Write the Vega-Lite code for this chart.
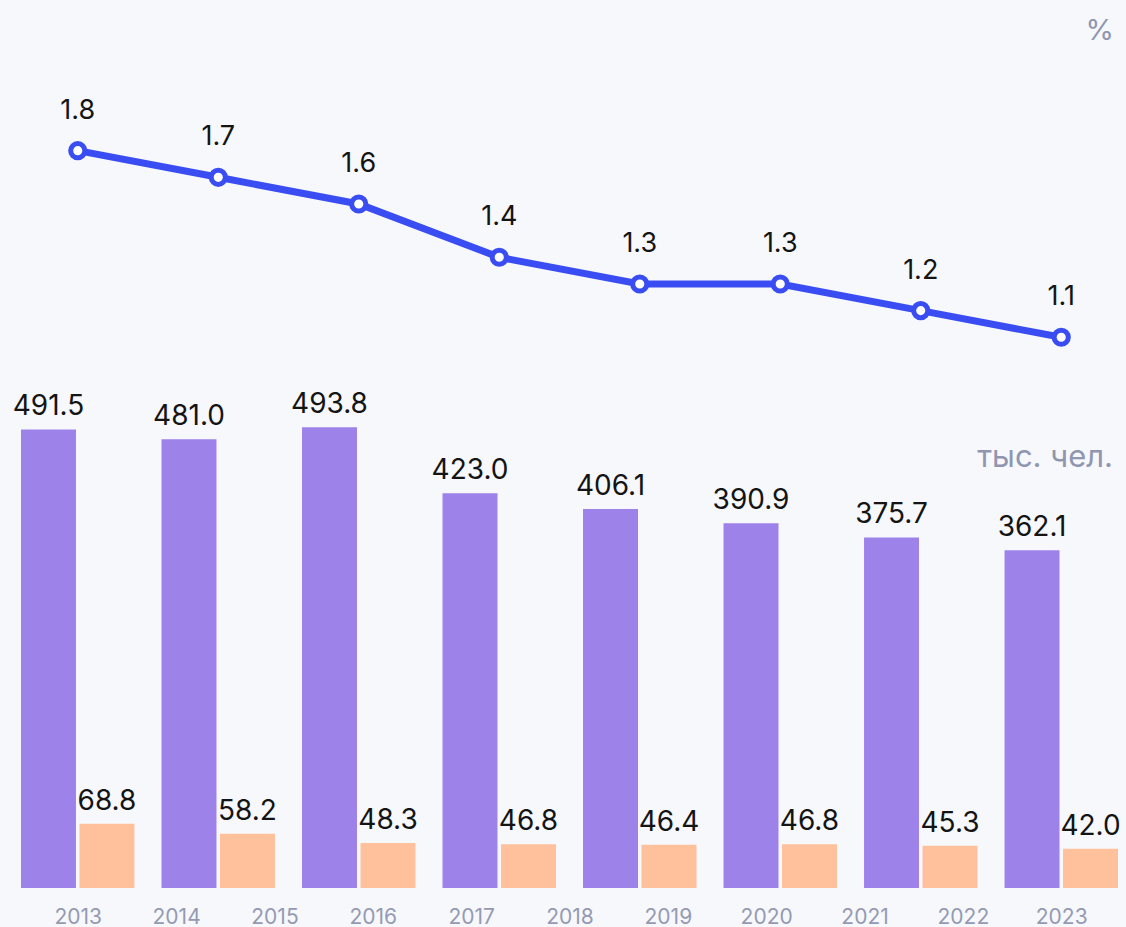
{
  "$schema": "https://vega.github.io/schema/vega-lite/v6.json",
  "width": 1097,
  "height": 868,
  "autosize": {"type": "none"},
  "padding": {"left": 21, "top": 20, "right": 8, "bottom": 39},
  "background": "#f6f8fb",
  "config": {"view": {"stroke": null}, "font": "Inter"},
  "datasets": {
    "bars": [
      {"g": 1, "series": "s1", "value": 491.5}, {"g": 1, "series": "s2", "value": 68.8},
      {"g": 2, "series": "s1", "value": 481.0}, {"g": 2, "series": "s2", "value": 58.2},
      {"g": 3, "series": "s1", "value": 493.8}, {"g": 3, "series": "s2", "value": 48.3},
      {"g": 4, "series": "s1", "value": 423.0}, {"g": 4, "series": "s2", "value": 46.8},
      {"g": 5, "series": "s1", "value": 406.1}, {"g": 5, "series": "s2", "value": 46.4},
      {"g": 6, "series": "s1", "value": 390.9}, {"g": 6, "series": "s2", "value": 46.8},
      {"g": 7, "series": "s1", "value": 375.7}, {"g": 7, "series": "s2", "value": 45.3},
      {"g": 8, "series": "s1", "value": 362.1}, {"g": 8, "series": "s2", "value": 42.0}
    ],
    "rate": [
      {"g": 1, "pct": 1.8}, {"g": 2, "pct": 1.7}, {"g": 3, "pct": 1.6}, {"g": 4, "pct": 1.4},
      {"g": 5, "pct": 1.3}, {"g": 6, "pct": 1.3}, {"g": 7, "pct": 1.2}, {"g": 8, "pct": 1.1}
    ],
    "years": [
      {"year": 2013}, {"year": 2014}, {"year": 2015}, {"year": 2016}, {"year": 2017}, {"year": 2018},
      {"year": 2019}, {"year": 2020}, {"year": 2021}, {"year": 2022}, {"year": 2023}
    ]
  },
  "layer": [
    {
      "layer": [
        {
          "data": {"name": "bars"},
          "mark": {"type": "bar"},
          "encoding": {
            "x": {"field": "g", "type": "ordinal", "scale": {"type": "band", "paddingInner": 0.1926, "paddingOuter": 0}, "axis": null},
            "xOffset": {"field": "series", "type": "nominal", "scale": {"paddingInner": 0.06, "paddingOuter": 0}},
            "y": {"field": "value", "type": "quantitative", "scale": {"domain": [0, 930.3], "nice": false, "zero": true}, "axis": null},
            "color": {"field": "series", "type": "nominal", "scale": {"domain": ["s1", "s2"], "range": ["#9d82ea", "#ffc19b"]}, "legend": null}
          }
        },
        {
          "data": {"name": "bars"},
          "mark": {"type": "text", "baseline": "alphabetic", "dy": -14, "fontSize": 28, "color": "#141414"},
          "encoding": {
            "x": {"field": "g", "type": "ordinal", "axis": null},
            "xOffset": {"field": "series", "type": "nominal"},
            "y": {"field": "value", "type": "quantitative", "axis": null},
            "text": {"field": "value", "type": "quantitative", "format": ".1f"}
          }
        },
        {
          "data": {"values": [{"t": "тыс. чел."}]},
          "mark": {"type": "text", "baseline": "alphabetic", "align": "right", "dx": -5, "fontSize": 31, "color": "#9096b0"},
          "encoding": {
            "x": {"datum": 8, "type": "ordinal", "bandPosition": 1},
            "y": {"datum": 451.6, "type": "quantitative"},
            "text": {"field": "t"}
          }
        },
        {
          "data": {"values": [{"t": "%"}]},
          "mark": {"type": "text", "baseline": "alphabetic", "align": "right", "dx": -4, "fontSize": 29, "color": "#9096b0"},
          "encoding": {
            "x": {"datum": 8, "type": "ordinal", "bandPosition": 1},
            "y": {"datum": 908.9, "type": "quantitative"},
            "text": {"field": "t"}
          }
        }
      ]
    },
    {
      "data": {"name": "rate"},
      "encoding": {
        "x": {"field": "g", "type": "ordinal", "scale": {"type": "point", "padding": 0.404}, "axis": null},
        "y": {"field": "pct", "type": "quantitative", "scale": {"domain": [-0.9655, 2.29], "nice": false, "zero": false}, "axis": null}
      },
      "layer": [
        {"mark": {"type": "line", "color": "#3a4df2", "strokeWidth": 7}},
        {"mark": {"type": "point", "filled": true, "fill": "#ffffff", "stroke": "#3a4df2", "strokeWidth": 5, "size": 200, "opacity": 1}},
        {
          "mark": {"type": "text", "baseline": "alphabetic", "dy": -32, "fontSize": 27, "color": "#141414"},
          "encoding": {"text": {"field": "pct", "type": "quantitative", "format": ".1f"}}
        }
      ]
    },
    {
      "data": {"name": "years"},
      "mark": {"type": "point", "opacity": 0},
      "encoding": {
        "x": {
          "field": "year", "type": "ordinal",
          "scale": {"type": "point", "padding": 0.5775},
          "axis": {"orient": "bottom", "domain": false, "ticks": false, "tickSize": 0, "grid": false, "labelAngle": 0, "labelFontSize": 21, "labelColor": "#959ab3", "labelPadding": 18, "labelFont": "Inter", "title": null}
        }
      }
    }
  ],
  "resolve": {"scale": {"x": "independent", "y": "independent", "xOffset": "independent"}}
}
